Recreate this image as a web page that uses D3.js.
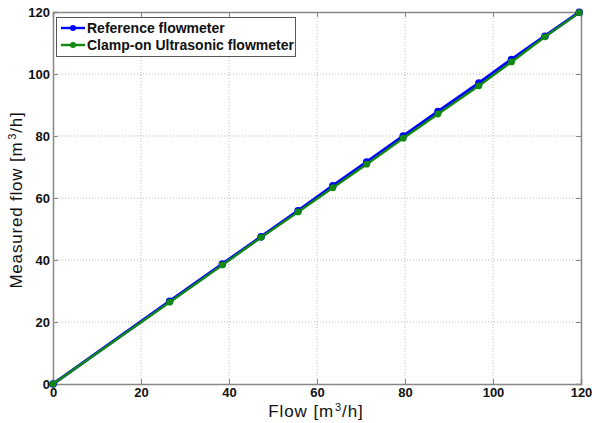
<!DOCTYPE html>
<html>
<head>
<meta charset="utf-8">
<script src="https://cdn.jsdelivr.net/npm/d3@7"></script>
<style>
  html, body { margin: 0; padding: 0; background: #fff; }
  svg { display: block; }
</style>
</head>
<body>
<svg id="chart" width="592" height="423"></svg>
<script>
// ---- data ----
const flow = [0, 26.5, 38.5, 47.3, 55.7, 63.6, 71.3, 79.6, 87.5, 96.8, 104.2, 111.8, 119.6];
const referenceFlow = [0, 26.7, 38.7, 47.5, 55.9, 63.9, 71.6, 80.0, 87.9, 97.1, 104.7, 112.2, 119.9];
const clampOnFlow = [0, 26.4, 38.4, 47.3, 55.5, 63.3, 70.9, 79.3, 87.1, 96.2, 103.9, 112.0, 119.8];
const xTicks = [0, 20, 40, 60, 80, 100, 120];
const yTicks = [0, 20, 40, 60, 80, 100, 120];
const seriesNames = ["Reference flowmeter", "Clamp-on Ultrasonic flowmeter"];
const seriesColors = ["#0000ff", "#118811"];

const svg = d3.select("#chart");
const L = 53, R = 581, T = 12, B = 384;
const x = d3.scaleLinear().domain([0, 120]).range([L, R]);
const y = d3.scaleLinear().domain([0, 120]).range([B, T]);
const font = "Arial, 'Liberation Sans', sans-serif";
const axisColor = "#888";

// grid
const grid = svg.append("g");
grid.selectAll(".gx").data(xTicks.slice(1, -1)).enter().append("line")
  .attr("x1", d => x(d)).attr("x2", d => x(d)).attr("y1", T).attr("y2", B)
  .attr("stroke", "#b8b8b8").attr("stroke-width", 1).attr("stroke-dasharray", "1,2");
grid.selectAll(".gy").data(yTicks.slice(1, -1)).enter().append("line")
  .attr("y1", d => y(d)).attr("y2", d => y(d)).attr("x1", L).attr("x2", R)
  .attr("stroke", "#b8b8b8").attr("stroke-width", 1).attr("stroke-dasharray", "1,2");

// axes
const xAxis = d3.axisBottom(x).tickValues(xTicks).tickSize(-5).tickPadding(4);
const yAxis = d3.axisLeft(y).tickValues(yTicks).tickSize(-5).tickPadding(3);
const xTop = d3.axisTop(x).tickValues(xTicks).tickSize(-5).tickFormat("");
const yRight = d3.axisRight(y).tickValues(yTicks).tickSize(-5).tickFormat("");

function styleAxis(g) {
  g.select(".domain").attr("stroke", axisColor).attr("stroke-width", 1.5);
  g.selectAll(".tick line").attr("stroke", axisColor);
  g.selectAll(".tick text").attr("fill", "#111").style("font-family", font)
    .style("font-size", "13px").style("font-weight", "bold");
}
svg.append("g").attr("transform", `translate(0,${B})`).call(xAxis).call(styleAxis);
svg.append("g").attr("transform", `translate(${L},0)`).call(yAxis).call(styleAxis);
svg.append("g").attr("transform", `translate(0,${T})`).call(xTop).call(styleAxis);
svg.append("g").attr("transform", `translate(${R},0)`).call(yRight).call(styleAxis);

// series
const series = [referenceFlow, clampOnFlow];
const line = d3.line().x((d, i) => x(flow[i])).y(d => y(d));
series.forEach((vals, si) => {
  svg.append("path").datum(vals).attr("d", line)
    .attr("fill", "none").attr("stroke", seriesColors[si])
    .attr("stroke-width", si === 0 ? 3.2 : 2.4).attr("stroke-linejoin", "round");
  svg.selectAll(".m" + si).data(vals).enter().append("circle")
    .attr("cx", (d, i) => x(flow[i])).attr("cy", d => y(d))
    .attr("r", si === 0 ? 3.8 : 3.4).attr("fill", seriesColors[si]);
});

// axis titles
const xt = svg.append("text").attr("x", (L + R) / 2 - 1).attr("y", 417)
  .attr("text-anchor", "middle").attr("fill", "#111")
  .style("font-family", font).style("font-size", "17px").style("letter-spacing", "0.9px");
xt.append("tspan").text("Flow [m");
xt.append("tspan").text("3").attr("dy", -6).style("font-size", "11px").attr("dx", 1);
xt.append("tspan").text("/h]").attr("dy", 6);

const yt = svg.append("text").attr("transform", `translate(22,200) rotate(-90)`)
  .attr("text-anchor", "middle").attr("fill", "#111")
  .style("font-family", font).style("font-size", "17px").style("letter-spacing", "0.8px");
yt.append("tspan").text("Measured flow [m");
yt.append("tspan").text("3").attr("dy", -6).style("font-size", "11px").attr("dx", 2);
yt.append("tspan").text("/h]").attr("dy", 6);

// legend
const lg = svg.append("g");
lg.append("rect").attr("x", 56.5).attr("y", 17.5).attr("width", 239).attr("height", 39)
  .attr("fill", "#fff").attr("stroke", "#555").attr("stroke-width", 1);
seriesNames.forEach((name, i) => {
  const yy = 28 + i * 17;
  lg.append("line").attr("x1", 61).attr("x2", 85).attr("y1", yy).attr("y2", yy)
    .attr("stroke", seriesColors[i]).attr("stroke-width", 2.4);
  lg.append("circle").attr("cx", 73).attr("cy", yy).attr("r", 3).attr("fill", seriesColors[i]);
  lg.append("text").attr("x", 87).attr("y", yy + 5).text(name).attr("fill", "#111")
    .style("font-family", font).style("font-size", "14px").style("font-weight", "bold");
});
</script>
</body>
</html>
